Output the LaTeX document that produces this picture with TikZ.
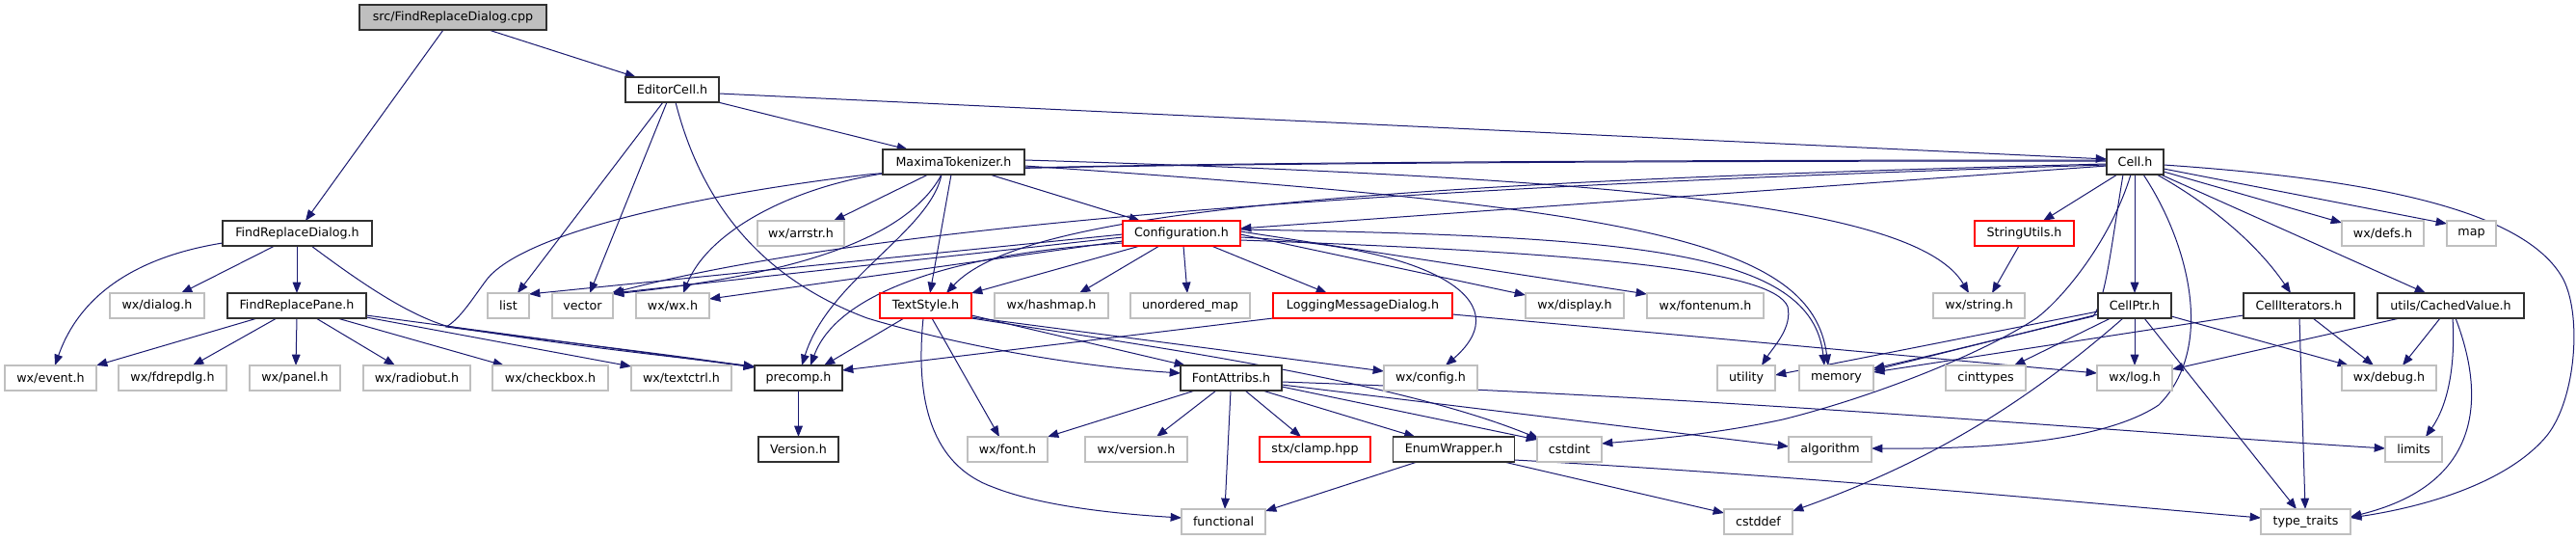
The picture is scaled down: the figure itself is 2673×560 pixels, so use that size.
\documentclass[tikz,border=0pt]{standalone}
\usepackage{fontspec}
\setmainfont{DejaVu Sans}
\usetikzlibrary{arrows.meta,calc}
\definecolor{edgeblue}{HTML}{191970}
\definecolor{greyb}{HTML}{BFBFBF}
\definecolor{docborder}{HTML}{303030}
\pgfdeclarelayer{bg}
\pgfsetlayers{bg,main}
\begin{document}
\begin{tikzpicture}[x=0.75pt,y=-0.75pt,
 box/.style={rectangle, inner sep=0pt, minimum height=19.5pt, fill=white, font=\fontsize{9.5pt}{11pt}\selectfont, line width=0.9pt},
 doc/.style={box, draw=docborder},
 ext/.style={box, draw=greyb, line width=1pt},
 trunc/.style={box, draw=red},
 rootbox/.style={box, draw=docborder, fill=greyb},
 wd/.style={minimum width={#1*0.75pt}},
 conn/.style={draw=edgeblue, line width=0.75pt, -{Triangle[length=8.5pt,width=6.5pt]}},
]
% row 0
\node[rootbox,wd=194] (root) at (470,18) {src/FindReplaceDialog.cpp};
% row 1
\node[doc,wd=97] (editor) at (697.5,93) {EditorCell.h};
% row 2
\node[doc,wd=147] (maxima) at (989.5,168) {MaximaTokenizer.h};
\node[doc,wd=59] (cell) at (2215.5,168) {Cell.h};
% row 3
\node[doc,wd=155] (frd) at (308.5,242) {FindReplaceDialog.h};
\node[ext,wd=90] (arrstr) at (831,242) {wx/arrstr.h};
\node[trunc,wd=122] (config) at (1226,242) {Configuration.h};
\node[trunc,wd=103] (strutil) at (2100.5,242) {StringUtils.h};
\node[ext,wd=85] (defs) at (2472.5,242) {wx/defs.h};
\node[ext,wd=51] (map) at (2564.5,242) {map};
% row 4
\node[ext,wd=98] (dialog) at (163,317) {wx/dialog.h};
\node[doc,wd=144] (frp) at (308,317) {FindReplacePane.h};
\node[ext,wd=43] (list) at (527.5,317) {list};
\node[ext,wd=63] (vector) at (604.5,317) {vector};
\node[ext,wd=76] (wxwx) at (698,317) {wx/wx.h};
\node[trunc,wd=95] (textstyle) at (960.5,317) {TextStyle.h};
\node[ext,wd=118] (hashmap) at (1091,317) {wx/hashmap.h};
\node[ext,wd=124] (umap) at (1235,317) {unordered\_map};
\node[trunc,wd=186] (logdlg) at (1414,317) {LoggingMessageDialog.h};
\node[ext,wd=102] (display) at (1634,317) {wx/display.h};
\node[ext,wd=121] (fontenum) at (1769.5,317) {wx/fontenum.h};
\node[ext,wd=95] (wxstring) at (2053.5,317) {wx/string.h};
\node[doc,wd=76] (cellptr) at (2215,317) {CellPtr.h};
\node[doc,wd=115] (celliter) at (2385.5,317) {CellIterators.h};
\node[doc,wd=152] (cached) at (2543,317) {utils/CachedValue.h};
% row 5
\node[ext,wd=95] (event) at (52.5,392) {wx/event.h};
\node[ext,wd=112] (fdrepdlg) at (179,392) {wx/fdrepdlg.h};
\node[ext,wd=94] (panel) at (306,392) {wx/panel.h};
\node[ext,wd=111] (radiobut) at (432.5,392) {wx/radiobut.h};
\node[ext,wd=120] (checkbox) at (571,392) {wx/checkbox.h};
\node[ext,wd=104] (textctrl) at (707,392) {wx/textctrl.h};
\node[doc,wd=91] (precomp) at (828.5,392) {precomp.h};
\node[doc,wd=105] (fontattr) at (1277.5,392) {FontAttribs.h};
\node[ext,wd=97] (wxconfig) at (1484.5,392) {wx/config.h};
\node[ext,wd=60] (utility) at (1812,392) {utility};
\node[ext,wd=77] (memory) at (1905.5,392) {memory};
\node[ext,wd=83] (cinttypes) at (2060.5,392) {cinttypes};
\node[ext,wd=78] (wxlog) at (2215,392) {wx/log.h};
\node[ext,wd=98] (debug) at (2479,392) {wx/debug.h};
% row 6
\node[doc,wd=83] (version) at (828.5,466) {Version.h};
\node[ext,wd=83] (font) at (1045.5,466) {wx/font.h};
\node[ext,wd=106] (wxversion) at (1179,466) {wx/version.h};
\node[trunc,wd=115] (clamp) at (1364.5,466) {stx/clamp.hpp};
\node[doc,wd=126] (enumw) at (1508.5,466) {EnumWrapper.h};
\node[ext,wd=67] (cstdint) at (1628.5,466) {cstdint};
\node[ext,wd=86] (algorithm) at (1899,466) {algorithm};
\node[ext,wd=59] (limits) at (2504.5,466) {limits};
% row 7
\node[ext,wd=87] (functional) at (1269.5,541) {functional};
\node[ext,wd=71] (cstddef) at (1824.5,541) {cstddef};
\node[ext,wd=93] (typetraits) at (2392.5,541) {type\_traits};

\begin{pgfonlayer}{bg}
\useasboundingbox (0,0) rectangle (2673,560);
\fill[white] (0,0) rectangle (2673,560);
% root
\draw[conn] ($(root)+(-10,13)$) -- ($(frd)+(8.5,-13)$);
\draw[conn] ($(root)+(37,13)$) -- ($(editor)+(-37.5,-13)$);
% EditorCell
\draw[conn] ($(editor)+(48.5,4)$) -- ($(cell)+(-29.5,-3)$);
\draw[conn] ($(editor)+(47.5,13)$) -- ($(maxima)+(-47.5,-13)$);
\draw[conn] ($(editor)+(-9.5,13)$) -- ($(list)+(9.5,-13)$);
\draw[conn] ($(editor)+(-5.5,13)$) -- ($(vector)+(7.5,-13)$);
\draw[conn] ($(editor)+(3.5,13)$) .. controls (725,200) and (780,285) .. (900,330) .. controls (1000,360) and (1120,380) .. ($(fontattr)+(-52.5,-5)$);
% MaximaTokenizer
\draw[conn] ($(maxima)+(-26.5,13)$) -- ($(arrstr)+(34,-13)$);
\draw[conn] ($(maxima)+(37.5,13)$) -- ($(config)+(-43,-13)$);
\draw[conn] ($(maxima)+(-2.5,13)$) -- ($(textstyle)+(4.5,-13)$);
\draw[conn] ($(maxima)+(-12.5,13)$) .. controls (940,250) and (820,285) .. ($(vector)+(31.5,-12)$);
\draw[conn] ($(maxima)+(-12.5,13)$) .. controls (965,240) and (860,290) .. ($(precomp)+(3.5,-13)$);
\draw[conn] ($(maxima)+(73.5,4)$) .. controls (1700,215) and (1880,250) .. ($(memory)+(-8.5,-13)$);
\draw[conn] ($(maxima)+(73.5,-2)$) .. controls (1700,185) and (1990,215) .. ($(wxstring)+(-10.5,-13)$);
% Cell.h
\draw[conn] ($(cell)+(-29.5,4)$) -- ($(config)+(61,-5)$);
\draw[conn] ($(cell)+(-29.5,2)$) .. controls (1400,190) and (1060,220) .. ($(textstyle)+(21.5,-13)$);
\draw[conn] ($(cell)+(-29.5,3)$) .. controls (1400,195) and (900,235) .. ($(vector)+(30,-13)$);
\draw[conn] ($(cell)+(-29.5,-1)$) .. controls (1500,167) and (1000,172) .. (916,180) .. controls (820,195) and (735,240) .. ($(wxwx)+(11,-13)$);
\draw[conn] ($(cell)+(-29.5,-2)$) .. controls (1500,166) and (1000,171) .. (900,181) .. controls (700,205) and (540,245) .. (505,290) .. controls (490,310) and (478,330) .. (463,339) .. controls (560,352) and (700,368) .. ($(precomp)+(-45.5,-11)$);
\draw[conn] ($(cell)+(-18.5,13)$) -- ($(strutil)+(19.5,-13)$);
\draw[conn] ($(cell)+(-0.5,13)$) -- ($(cellptr)+(0,-13)$);
\draw[conn] ($(cell)+(22.5,13)$) .. controls (2290,210) and (2340,250) .. ($(celliter)+(-8.5,-13)$);
\draw[conn] ($(cell)+(26.5,13)$) -- ($(cached)+(-26,-13)$);
\draw[conn] ($(cell)+(29.5,10)$) -- ($(defs)+(-42.5,-11)$);
\draw[conn] ($(cell)+(29.5,7)$) -- ($(map)+(-25.5,-10)$);
\draw[conn] ($(cell)+(29.5,3)$) .. controls (2450,185) and (2620,215) .. (2660,290) .. controls (2680,330) and (2672,420) .. (2640,455) .. controls (2600,500) and (2520,525) .. ($(typetraits)+(46.5,-4)$);
\draw[conn] ($(cell)+(8.5,13)$) .. controls (2270,250) and (2300,360) .. (2240,420) .. controls (2180,460) and (2050,466) .. ($(algorithm)+(43,-1)$);
\draw[conn] ($(cell)+(-4.5,13)$) .. controls (2190,250) and (2140,310) .. (2113,330) .. controls (2060,365) and (1950,410) .. (1850,435) .. controls (1780,450) and (1720,455) .. ($(cstdint)+(33.5,-6)$);
\draw[conn] ($(cell)+(-12.5,13)$) .. controls (2190,260) and (2185,310) .. (2172,328) .. controls (2100,345) and (2000,370) .. ($(memory)+(38.5,-10)$);
% Configuration.h
\draw[conn] ($(config)+(-43,13)$) -- ($(textstyle)+(47.5,-13)$);
\draw[conn] ($(config)+(-23,13)$) -- ($(hashmap)+(29,-13)$);
\draw[conn] ($(config)+(2,13)$) -- ($(umap)+(-3,-13)$);
\draw[conn] ($(config)+(31,13)$) -- ($(logdlg)+(-37,-13)$);
\draw[conn] ($(config)+(61,1)$) -- ($(display)+(-51,-11)$);
\draw[conn] ($(config)+(61,-2)$) -- ($(fontenum)+(-60.5,-12)$);
\draw[conn] ($(config)+(61,4)$) .. controls (1480,255) and (1580,310) .. ($(wxconfig)+(15.5,-13)$);
\draw[conn] ($(config)+(61,-4)$) .. controls (1700,245) and (1880,260) .. ($(memory)+(-12.5,-13)$);
\draw[conn] ($(config)+(61,7)$) .. controls (1650,262) and (1840,280) .. (1855,318) .. controls (1860,340) and (1840,360) .. ($(utility)+(16,-13)$);
\draw[conn] ($(config)+(-61,1)$) -- ($(list)+(21.5,-12)$);
\draw[conn] ($(config)+(-61,4)$) -- ($(vector)+(31.5,-13)$);
\draw[conn] ($(config)+(-61,8)$) -- ($(wxwx)+(38,-7)$);
\draw[conn] ($(config)+(-61,10)$) .. controls (1000,262) and (870,300) .. ($(precomp)+(12.5,-13)$);
% TextStyle.h
\draw[conn] ($(textstyle)+(-22.5,13)$) -- ($(precomp)+(26.5,-13)$);
\draw[conn] ($(textstyle)+(6.5,13)$) -- ($(font)+(-8.5,-13)$);
\draw[conn] ($(textstyle)+(-2.5,13)$) .. controls (948,430) and (975,485) .. (1030,505) .. controls (1080,525) and (1160,533) .. ($(functional)+(-43.5,-4)$);
\draw[conn] ($(textstyle)+(47.5,10)$) -- ($(fontattr)+(-47.5,-13)$);
\draw[conn] ($(textstyle)+(47.5,12)$) -- ($(wxconfig)+(-48.5,-7)$);
\draw[conn] ($(textstyle)+(47.5,13)$) .. controls (1200,360) and (1450,395) .. ($(cstdint)+(-31.5,-11)$);
% LoggingMessageDialog.h
\draw[conn] ($(logdlg)+(-93,13)$) -- ($(precomp)+(45.5,-8)$);
\draw[conn] ($(logdlg)+(93,9)$) -- ($(wxlog)+(-39,-5)$);
% FindReplaceDialog.h
\draw[conn] ($(frd)+(-77.5,10)$) .. controls (150,265) and (85,300) .. ($(event)+(4.5,-13)$);
\draw[conn] ($(frd)+(-23.5,13)$) -- ($(dialog)+(25,-13)$);
\draw[conn] ($(frd)+(-0.5,13)$) -- ($(frp)+(0,-13)$);
\draw[conn] ($(frd)+(14.5,13)$) .. controls (370,290) and (420,325) .. (463,338) .. controls (600,360) and (700,370) .. ($(precomp)+(-45.5,-12)$);
% FindReplacePane.h
\draw[conn] ($(frp)+(-41,13)$) -- ($(event)+(47.5,-13)$);
\draw[conn] ($(frp)+(-21,13)$) -- ($(fdrepdlg)+(21,-13)$);
\draw[conn] ($(frp)+(0,13)$) -- ($(panel)+(1,-13)$);
\draw[conn] ($(frp)+(20,13)$) -- ($(radiobut)+(-22.5,-13)$);
\draw[conn] ($(frp)+(42,13)$) -- ($(checkbox)+(-48,-13)$);
\draw[conn] ($(frp)+(72,12)$) -- ($(textctrl)+(-52,-12)$);
\draw[conn] ($(frp)+(72,10)$) -- ($(precomp)+(-45.5,-11)$);
% precomp.h
\draw[conn] ($(precomp)+(0,13)$) -- ($(version)+(0,-13)$);
% FontAttribs.h
\draw[conn] ($(fontattr)+(-37.5,13)$) -- ($(font)+(41.5,-13)$);
\draw[conn] ($(fontattr)+(-15.5,13)$) -- ($(wxversion)+(21,-13)$);
\draw[conn] ($(fontattr)+(-0.5,13)$) -- ($(functional)+(1.5,-13)$);
\draw[conn] ($(fontattr)+(14.5,13)$) -- ($(clamp)+(-14.5,-13)$);
\draw[conn] ($(fontattr)+(32.5,13)$) -- ($(enumw)+(-40,-13)$);
\draw[conn] ($(fontattr)+(52.5,9)$) -- ($(cstdint)+(-33.5,-10)$);
\draw[conn] ($(fontattr)+(52.5,7)$) -- ($(algorithm)+(-43,-3)$);
\draw[conn] ($(fontattr)+(52.5,4)$) .. controls (1800,412) and (2200,448) .. ($(limits)+(-29.5,-1)$);
% EnumWrapper.h
\draw[conn] ($(enumw)+(-38,13)$) -- ($(functional)+(43.5,-11)$);
\draw[conn] ($(enumw)+(52,13)$) -- ($(cstddef)+(-35.5,-9)$);
\draw[conn] ($(enumw)+(63,11)$) .. controls (1900,495) and (2200,525) .. ($(typetraits)+(-46.5,-4)$);
% CellPtr.h
\draw[conn] ($(cellptr)+(0,13)$) -- ($(wxlog)+(0,-13)$);
\draw[conn] ($(cellptr)+(-38,9)$) -- ($(memory)+(38.5,-8)$);
\draw[conn] ($(cellptr)+(-38,6)$) -- ($(utility)+(30,-3)$);
\draw[conn] ($(cellptr)+(-25,13)$) -- ($(cinttypes)+(29.5,-13)$);
\draw[conn] ($(cellptr)+(-12,13)$) .. controls (2100,420) and (2000,480) .. ($(cstddef)+(35.5,-11)$);
\draw[conn] ($(cellptr)+(10,13)$) -- ($(typetraits)+(-9.5,-13)$);
\draw[conn] ($(cellptr)+(38,11)$) -- ($(debug)+(-42,-13)$);
% CellIterators.h
\draw[conn] ($(celliter)+(-57.5,10)$) -- ($(memory)+(38.5,-6)$);
\draw[conn] ($(celliter)+(0.5,13)$) -- ($(typetraits)+(-0.5,-13)$);
\draw[conn] ($(celliter)+(14.5,13)$) -- ($(debug)+(-16,-13)$);
% utils/CachedValue.h
\draw[conn] ($(cached)+(-53,13)$) -- ($(wxlog)+(39,-9)$);
\draw[conn] ($(cached)+(-11,13)$) -- ($(debug)+(14,-13)$);
\draw[conn] ($(cached)+(2,13)$) .. controls (2548,380) and (2540,420) .. ($(limits)+(12.5,-13)$);
\draw[conn] ($(cached)+(5,13)$) .. controls (2575,400) and (2585,500) .. ($(typetraits)+(46.5,-5)$);
% StringUtils.h
\draw[conn] ($(strutil)+(-5.5,13)$) -- ($(wxstring)+(13.5,-13)$);
\end{pgfonlayer}
\end{tikzpicture}
\end{document}
